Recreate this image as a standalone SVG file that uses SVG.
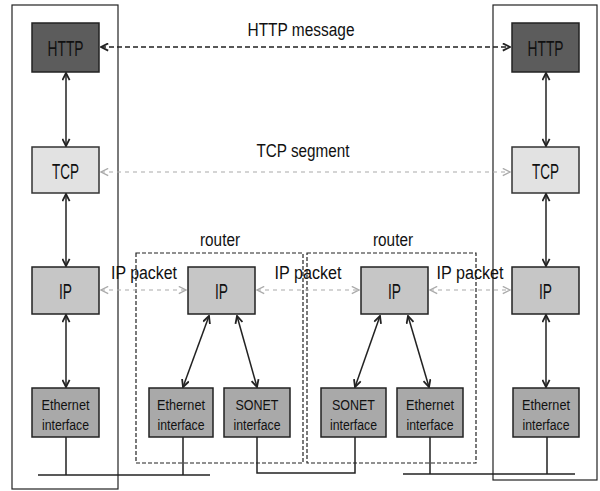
<svg xmlns="http://www.w3.org/2000/svg" width="600" height="491" viewBox="0 0 600 491">
<style>
text{font-family:"Liberation Sans",Arial,sans-serif;fill:#111;text-anchor:middle}
.host{fill:none;stroke:#222;stroke-width:1.2}
.router{fill:none;stroke:#222;stroke-width:1.2;stroke-dasharray:4 2}
.http{fill:#5c5c5c;stroke:#222;stroke-width:1.5}
.tcp{fill:#e2e2e2;stroke:#333;stroke-width:1.5}
.ip{fill:#c6c6c6;stroke:#222;stroke-width:1.5}
.ifc{fill:#a9a9a9;stroke:#222;stroke-width:1.5}
.lbl{font-size:22px}
.small{font-size:14px}
.cap{font-size:18px}
.solid{fill:none;stroke:#222;stroke-width:1.5}
.wire{fill:none;stroke:#222;stroke-width:1.5}
.dashb{fill:none;stroke:#222;stroke-width:1.5;stroke-dasharray:5 3}
.dashg{fill:none;stroke:#aaa;stroke-width:1.2;stroke-dasharray:4 4}
</style>
<defs>
<marker id="ab" viewBox="0 0 10 10" refX="9" refY="5" markerWidth="9" markerHeight="9" markerUnits="userSpaceOnUse" orient="auto-start-reverse"><path d="M1,1 L9,5 L1,9" fill="none" stroke="#222" stroke-width="2"/></marker>
<marker id="ag" viewBox="0 0 10 10" refX="9" refY="5" markerWidth="9" markerHeight="9" markerUnits="userSpaceOnUse" orient="auto-start-reverse"><path d="M1,1 L9,5 L1,9" fill="none" stroke="#aaa" stroke-width="1.5"/></marker>
</defs>
<rect width="600" height="491" fill="#fff"/>

<g id="host-left"><rect class="host" x="12" y="5" width="106" height="484"/></g>
<g id="host-right"><rect class="host" x="493" y="5" width="104" height="475"/></g>
<g id="router-1"><rect class="router" x="136" y="253" width="167" height="210"/><text class="cap" x="220" y="246" textLength="40" lengthAdjust="spacingAndGlyphs">router</text></g>
<g id="router-2"><rect class="router" x="307" y="253" width="169" height="210"/><text class="cap" x="393" y="246" textLength="40" lengthAdjust="spacingAndGlyphs">router</text></g>

<g id="http-left"><rect class="http" x="32" y="23" width="67" height="49"/><text class="lbl" x="65.5" y="56" textLength="36" lengthAdjust="spacingAndGlyphs">HTTP</text></g>
<g id="tcp-left"><rect class="tcp" x="32" y="147" width="67" height="46"/><text class="lbl" x="65.5" y="179" textLength="27" lengthAdjust="spacingAndGlyphs">TCP</text></g>
<g id="ip-left"><rect class="ip" x="32" y="267" width="67" height="47"/><text class="lbl" x="65.5" y="299" textLength="13" lengthAdjust="spacingAndGlyphs">IP</text></g>
<g id="eth-left"><rect class="ifc" x="32" y="388" width="67" height="49"/><text class="small" x="65.5" y="410" textLength="48" lengthAdjust="spacingAndGlyphs">Ethernet</text><text class="small" x="65.5" y="430" textLength="47" lengthAdjust="spacingAndGlyphs">interface</text></g>

<g id="http-right"><rect class="http" x="512" y="23" width="67" height="49"/><text class="lbl" x="545.5" y="56" textLength="36" lengthAdjust="spacingAndGlyphs">HTTP</text></g>
<g id="tcp-right"><rect class="tcp" x="512" y="147" width="67" height="46"/><text class="lbl" x="545.5" y="179" textLength="27" lengthAdjust="spacingAndGlyphs">TCP</text></g>
<g id="ip-right"><rect class="ip" x="512" y="267" width="67" height="47"/><text class="lbl" x="545.5" y="299" textLength="13" lengthAdjust="spacingAndGlyphs">IP</text></g>
<g id="eth-right"><rect class="ifc" x="513" y="388" width="66" height="49"/><text class="small" x="546" y="410" textLength="48" lengthAdjust="spacingAndGlyphs">Ethernet</text><text class="small" x="546" y="430" textLength="47" lengthAdjust="spacingAndGlyphs">interface</text></g>

<g id="ip-r1"><rect class="ip" x="188" y="267" width="67" height="47"/><text class="lbl" x="221.5" y="299" textLength="13" lengthAdjust="spacingAndGlyphs">IP</text></g>
<g id="eth-r1"><rect class="ifc" x="149" y="388" width="64" height="49"/><text class="small" x="181" y="410" textLength="48" lengthAdjust="spacingAndGlyphs">Ethernet</text><text class="small" x="181" y="430" textLength="47" lengthAdjust="spacingAndGlyphs">interface</text></g>
<g id="sonet-r1"><rect class="ifc" x="224" y="388" width="66" height="49"/><text class="small" x="257" y="410" textLength="43" lengthAdjust="spacingAndGlyphs">SONET</text><text class="small" x="257" y="430" textLength="47" lengthAdjust="spacingAndGlyphs">interface</text></g>

<g id="ip-r2"><rect class="ip" x="361" y="267" width="67" height="47"/><text class="lbl" x="394.5" y="299" textLength="13" lengthAdjust="spacingAndGlyphs">IP</text></g>
<g id="sonet-r2"><rect class="ifc" x="321" y="388" width="65" height="49"/><text class="small" x="353.5" y="410" textLength="43" lengthAdjust="spacingAndGlyphs">SONET</text><text class="small" x="353.5" y="430" textLength="47" lengthAdjust="spacingAndGlyphs">interface</text></g>
<g id="eth-r2"><rect class="ifc" x="397" y="388" width="66" height="49"/><text class="small" x="430" y="410" textLength="48" lengthAdjust="spacingAndGlyphs">Ethernet</text><text class="small" x="430" y="430" textLength="47" lengthAdjust="spacingAndGlyphs">interface</text></g>

<g id="connectors">
<line class="solid" x1="66" y1="73" x2="66" y2="146" marker-start="url(#ab)" marker-end="url(#ab)"/>
<line class="solid" x1="66" y1="194" x2="66" y2="266" marker-start="url(#ab)" marker-end="url(#ab)"/>
<line class="solid" x1="66" y1="315" x2="66" y2="387" marker-start="url(#ab)" marker-end="url(#ab)"/>
<line class="solid" x1="546" y1="73" x2="546" y2="146" marker-start="url(#ab)" marker-end="url(#ab)"/>
<line class="solid" x1="546" y1="194" x2="546" y2="266" marker-start="url(#ab)" marker-end="url(#ab)"/>
<line class="solid" x1="546" y1="315" x2="546" y2="387" marker-start="url(#ab)" marker-end="url(#ab)"/>
<line class="solid" x1="209" y1="316" x2="183" y2="387" marker-start="url(#ab)" marker-end="url(#ab)"/>
<line class="solid" x1="237" y1="316" x2="257" y2="387" marker-start="url(#ab)" marker-end="url(#ab)"/>
<line class="solid" x1="380" y1="316" x2="355" y2="387" marker-start="url(#ab)" marker-end="url(#ab)"/>
<line class="solid" x1="408" y1="316" x2="429" y2="387" marker-start="url(#ab)" marker-end="url(#ab)"/>

<line class="dashb" x1="101" y1="47" x2="510" y2="47" marker-start="url(#ab)" marker-end="url(#ab)"/>
<line class="dashg" x1="101" y1="172" x2="510" y2="172" marker-start="url(#ag)" marker-end="url(#ag)"/>
<line class="dashg" x1="101" y1="290" x2="186" y2="290" marker-start="url(#ag)" marker-end="url(#ag)"/>
<line class="dashg" x1="257" y1="290" x2="359" y2="290" marker-start="url(#ag)" marker-end="url(#ag)"/>
<line class="dashg" x1="430" y1="290" x2="510" y2="290" marker-start="url(#ag)" marker-end="url(#ag)"/>

<path class="wire" d="M38,475 H210"/>
<path class="wire" d="M66,437 V475 M183,437 V475"/>
<path class="wire" d="M257,437 V473 H355 V437"/>
<path class="wire" d="M403,474 H575"/>
<path class="wire" d="M430,437 V474 M547,437 V474"/>
</g>

<text class="cap" x="301" y="36" textLength="107" lengthAdjust="spacingAndGlyphs">HTTP message</text>
<text class="cap" x="303" y="157" textLength="93" lengthAdjust="spacingAndGlyphs">TCP segment</text>
<text class="cap" x="144" y="279" textLength="66" lengthAdjust="spacingAndGlyphs">IP packet</text>
<text class="cap" x="308" y="279" textLength="67" lengthAdjust="spacingAndGlyphs">IP packet</text>
<text class="cap" x="470" y="279" textLength="67" lengthAdjust="spacingAndGlyphs">IP packet</text>
</svg>
